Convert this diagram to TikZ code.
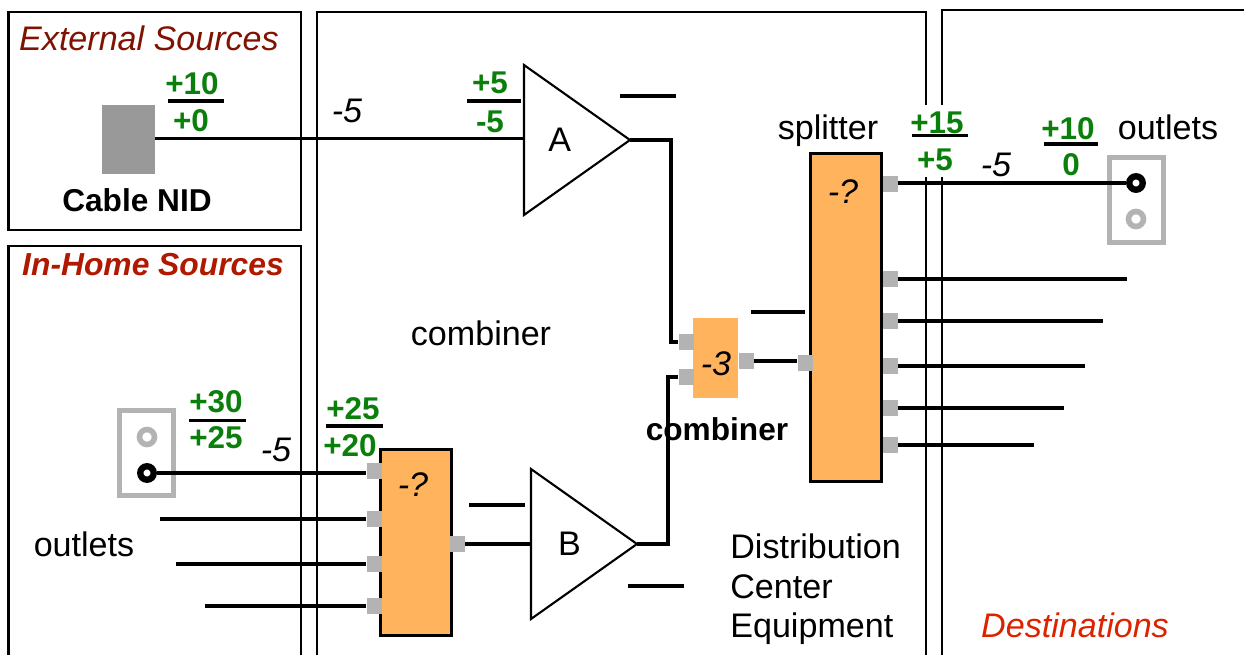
\documentclass[tikz,border=0pt]{standalone}
\usepackage{fontspec}
\setmainfont{Liberation Sans}
\usetikzlibrary{shapes.geometric}
\definecolor{levelgreen}{HTML}{0B7F0B}
\definecolor{boxorange}{HTML}{FFB35C}
\definecolor{portgray}{HTML}{B3B3B3}
\definecolor{nidgray}{HTML}{999999}
\definecolor{extred}{HTML}{7F1200}
\definecolor{homered}{HTML}{B01800}
\definecolor{destred}{HTML}{DD2200}
\tikzset{
  frame/.style={line width=1.2pt},
  wire/.style={line width=2pt},
  txt/.style={inner sep=0pt, font=\fontsize{19.4}{23}\selectfont},
  txtit/.style={inner sep=0pt, font=\fontsize{19.4}{23}\selectfont\itshape},
  level/.style={inner sep=0pt, text=levelgreen, font=\fontsize{17.9}{21}\selectfont\bfseries},
  unit/.style={draw, line width=1.7pt, fill=boxorange, rectangle, minimum width=1.42cm, inner sep=0pt},
  port/.style={fill=portgray, rectangle, inner sep=0pt, minimum width=0.3cm, minimum height=0.32cm},
  amp/.style={draw, line width=1.2pt, isosceles triangle, isosceles triangle stretches, minimum width=3cm, minimum height=2.12cm, inner sep=0pt, outer sep=0pt, font=\fontsize{19.4}{23}\selectfont},
  plate/.style={draw=portgray, line width=2.8pt, rectangle, minimum width=1.08cm, minimum height=1.7cm},
  hole/.style={circle, fill=white, line width=3.2pt, minimum size=0.3cm, inner sep=0pt},
  holeon/.style={circle, draw=black, fill=white, line width=3.6pt, minimum size=0.27cm, inner sep=0pt}
}
\begin{document}
\begin{tikzpicture}[x=0.02cm, y=-0.02cm]
\useasboundingbox (0,0) rectangle (1244,655);

% Frames
\draw[frame] (8.5,12) rectangle (301,230);
\draw[frame] (8.5,655) -- (8.5,246) -- (301,246) -- (301,655);
\draw[frame] (317,655) -- (317,12) -- (926,12) -- (926,105);
\draw[frame] (926,177) -- (926,655);
\draw[frame] (942,105) -- (942,10) -- (1244,10);
\draw[frame] (942,177) -- (942,655);

% Frame titles
\node[txtit, text=extred] (extTitle) at (149,38) {External Sources};
\node[inner sep=0pt, text=homered, font=\fontsize{18.1}{21}\selectfont\bfseries\itshape] (homeTitle) at (153,265) {In-Home Sources};
\node[txtit, text=destred] (destTitle) at (1075,625) {Destinations};

% Equipment
\node[fill=nidgray, rectangle, inner sep=0pt, minimum width=1.06cm, minimum height=1.38cm] (nid) at (128.5,139.5) {};
\node[amp, anchor=lower side] (ampA) at (524,140) {A};
\node[amp, anchor=lower side] (ampB) at (531,544) {\hspace*{2.5pt}B};
\node[unit, minimum height=3.72cm] (inBox) at (416,542.5) {};
\node[unit, minimum height=6.56cm] (splitBox) at (846,317.5) {};
\node[fill=boxorange, rectangle, inner sep=0pt, minimum width=0.9cm, minimum height=1.6cm] (combBox) at (715.5,358) {};

% Ports
\node[port] (inA) at (374,471) {};
\node[port] (inB) at (374,519) {};
\node[port] (inC) at (374,564) {};
\node[port] (inD) at (374,606) {};
\node[port] (inOut) at (457,544) {};
\node[port] (combA) at (686,342) {};
\node[port] (combB) at (686,377) {};
\node[port] (combOut) at (746,361) {};
\node[port] (splitIn) at (805,363) {};
\node[port] (splitA) at (890,184) {};
\node[port] (splitB) at (890,279) {};
\node[port] (splitC) at (890,321) {};
\node[port] (splitD) at (890,366) {};
\node[port] (splitE) at (890,408) {};
\node[port] (splitF) at (890,445) {};

% Outlets
\node[plate] (plateR) at (1136.5,200) {};
\node[holeon] (holeR) at (1136,183) {};
\node[hole, draw=portgray] (holeRb) at (1136,219) {};
\node[plate] (plateL) at (146.5,453) {};
\node[hole, draw=portgray] (holeLb) at (147,437) {};
\node[holeon] (holeL) at (147,473) {};

% Free ends
\coordinate (endB) at (1127,279);
\coordinate (endC) at (1103,321);
\coordinate (endD) at (1085,366);
\coordinate (endE) at (1064,408);
\coordinate (endF) at (1034,445);
\coordinate (endJ) at (160,519);
\coordinate (endK) at (176,564);
\coordinate (endL) at (205,606);

% Wires
\draw[wire] (nid.east |- 0,138.5) -- (ampA.lower side |- 0,138.5);
\draw[wire] (ampA.apex) -- ++(41,0) |- (combA.west);
\draw[wire] (ampB.apex) -- ++(31,0) |- (combB.west);
\draw[wire] (combOut.east) -- (combOut.east -| splitIn.west);
\draw[wire] (inOut.east) -- (ampB.lower side);
\draw[wire] (holeL.east) -- (holeL.east -| inA.west);
\draw[wire] (endJ) -- (inB.west);
\draw[wire] (endK) -- (inC.west);
\draw[wire] (endL) -- (inD.west);
\draw[wire] (splitA.east |- holeR) -- (holeR.west);
\draw[wire] (splitB.east) -- (endB);
\draw[wire] (splitC.east) -- (endC);
\draw[wire] (splitD.east) -- (endD);
\draw[wire] (splitE.east) -- (endE);
\draw[wire] (splitF.east) -- (endF);

% Bars
\draw[wire] (168,101) -- (224,101);
\draw[wire] (467,101) -- (521,101);
\draw[wire] (912,135.5) -- (968,135.5);
\draw[wire] (1044,144) -- (1098,144);
\draw[wire] (189,420.5) -- (246,420.5);
\draw[wire] (326,426) -- (383,426);
\draw[wire] (620,96) -- (676,96);
\draw[wire] (751,312) -- (805,312);
\draw[wire] (469,505) -- (525,505);
\draw[wire] (628,586) -- (684,586);

% Levels
\node[level] (lvlA) at (192,84) {+10};
\node[level] (lvlB) at (191,121) {+0};
\node[level] (lvlC) at (490,83) {+5};
\node[level] (lvlD) at (490,122) {-5};
\node[level] (lvlE) at (937,123) {+15};
\node[level] (lvlF) at (935,160) {+5};
\node[level] (lvlG) at (1068,129) {+10};
\node[level] (lvlH) at (1071,165) {0};
\node[level] (lvlI) at (216,402) {+30};
\node[level] (lvlJ) at (216,438) {+25};
\node[level] (lvlK) at (353,409) {+25};
\node[level] (lvlL) at (350,446) {+20};

% Labels
\node[txtit] (lossA) at (347,111) {-5};
\node[txtit] (lossB) at (276,450) {-5};
\node[txtit] (lossC) at (996,165) {-5};
\node[txtit] (lossD) at (843,192) {-?};
\node[txtit] (lossE) at (413,485) {-?};
\node[txtit] (lossF) at (716,364) {-3};
\node[txt] (splitLbl) at (828,131) {splitter};
\node[txt] (combLbl) at (481,333) {combiner};
\node[inner sep=0pt, font=\fontsize{18}{21}\selectfont\bfseries] (combLblB) at (717,429) {combiner};
\node[inner sep=0pt, font=\fontsize{18}{21}\selectfont\bfseries] (nidLbl) at (137,200) {Cable NID};
\node[txt] (outR) at (1168,127) {outlets};
\node[txt] (outL) at (84,544) {outlets};
\node[txt, anchor=west] (distA) at (730,546) {Distribution};
\node[txt, anchor=west] (distB) at (730,587) {Center};
\node[txt, anchor=west] (distC) at (730,629) {Equipment};
\end{tikzpicture}
\end{document}
